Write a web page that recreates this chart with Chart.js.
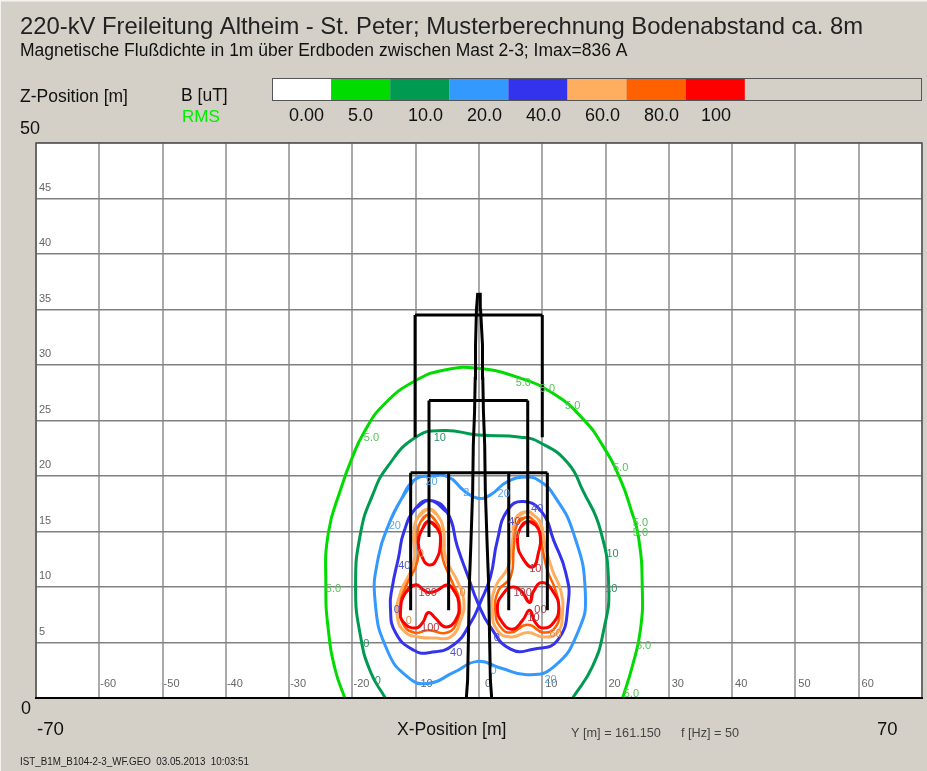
<!DOCTYPE html>
<html>
<head>
<meta charset="utf-8">
<title>Bodenabstand</title>
<script src="https://cdn.jsdelivr.net/npm/chart.js@4"></script>
<style>
  html, body { margin: 0; padding: 0; background: #d4d0c8; }
  canvas { display: block; }
</style>
</head>
<body>
<canvas id="fieldChart" width="927" height="771"></canvas>
<script>
// colour scale
var legendValues = ["0.00", "5.0", "10.0", "20.0", "40.0", "60.0", "80.0", "100"];
var legendColors = ["#ffffff", "#00dc00", "#009b50", "#3399ff", "#3333ee", "#ffae60", "#ff6000", "#ff0000"];

// axis ticks [m]
var xTicks = [-60, -50, -40, -30, -20, -10, 0, 10, 20, 30, 40, 50, 60];
var zTicks = [5, 10, 15, 20, 25, 30, 35, 40, 45];

// iso lines, [x, z] in metres
var line5 = [[-21.2,0],[-22.7,2.5],[-23.8,6.1],[-24.2,10],[-23.8,14.9],[-21.8,18.9],[-20,21.7],[-18.2,23.9],[-15.1,26.4],[-10,28.6],[-5,29.6],[-0.2,29.7],[6.1,28.9],[11.8,27.4],[16.5,25.1],[19.7,22.6],[22.4,19.6],[24,17],[25.2,14.5],[25.8,10],[25.5,6.1],[24.2,2.8],[22.7,0]];
var line10 = [[-14.8,0],[-17.1,2.3],[-18.7,5.5],[-19.5,10],[-18.7,14.9],[-16.8,18.3],[-14.5,20.8],[-10,23.5],[-5.6,24.1],[-0.2,23.7],[6.6,23.5],[9.7,23],[14,21.2],[16.4,18.7],[19.2,15.1],[20.5,10],[19.7,6.1],[17.9,2.8],[14.8,0]];
var line20 = [[-12.4,17.8],[-10.3,19.6],[-7.7,20],[-4.8,19.9],[-2.4,18.7],[-0.2,18],[1.8,18.3],[4.5,19.5],[7.7,19.9],[9.7,19.5],[11.8,18.3],[14.9,14.9],[16.8,9.5],[15.6,5.9],[11.8,2.8],[7.7,2.1],[3.4,2.7],[-0.2,3.3],[-4,2.3],[-8.1,1.3],[-11.3,1.9],[-14.5,4.3],[-16.4,8.6],[-15.9,12.7],[-14,16],[-12.4,17.8]];
var line40 = [[-7.7,17.8],[-5,16.7],[-3.4,13.6],[-1.7,10.9],[-0.2,8.6],[1.8,6.4],[5,4.4],[8.6,4.4],[12.4,5.2],[14.1,8.6],[13.7,11.3],[11.8,14.2],[10,16.7],[7,17.7],[4.5,16.9],[2.9,14.2],[1.8,10.9],[0.2,8.6],[-1.3,6.8],[-4,4.8],[-7.7,4.1],[-10.3,4.3],[-13.2,5.9],[-14,8.2],[-13.7,10],[-12.7,12.7],[-11.9,14.9],[-10,17.1],[-7.7,17.8]];
var line60a = [[-8,17],[-9.6,16.3],[-10.3,14.9],[-10.3,12.2],[-12.4,9.5],[-12.9,7.3],[-11.6,5.9],[-9.6,5.5],[-6.9,5.4],[-4.5,5.5],[-2.9,7],[-2.4,8.8],[-3.4,10.5],[-5.3,12.7],[-5.6,15.1],[-6.6,16.5],[-8,17]];
var line60b = [[7.7,16.8],[5.8,16.2],[5.3,14.2],[4.6,11.8],[2.6,10],[2.1,7.9],[2.9,6.1],[5,5.5],[7.7,5.9],[10.2,5.5],[12.4,5.9],[13.2,7.7],[12.9,9.7],[11.6,11.5],[10.5,13.6],[9.7,15.8],[8.6,16.5],[7.7,16.8]];
var line80a = [[-8,16.5],[-9.2,15.9],[-9.7,14.9],[-9.7,12.4],[-11.6,10],[-12.4,8.6],[-12.1,6.8],[-10.3,5.9],[-8,6.1],[-5,5.9],[-3.4,7],[-3.1,8.8],[-4.2,10.4],[-5.8,12.7],[-6.1,15],[-6.9,16],[-8,16.5]];
var line80b = [[7.7,16.3],[6.1,15.8],[5.5,13.6],[5,10.9],[3.1,9.7],[2.6,7.7],[3.4,6.4],[5,5.9],[7.7,6.6],[10.2,5.9],[12.1,6.4],[12.7,7.9],[12.1,9.7],[10.8,11.5],[10,13.6],[9.4,15.4],[8.6,16],[7.7,16.3]];
var line100a = [[-8,15.9],[-8.9,15.3],[-9.6,14],[-8.9,12.6],[-8,12],[-6.9,12.3],[-6.1,14],[-6.6,15.3],[-8,15.9]];
var line100b = [[-10,10.2],[-11.6,9.5],[-12.4,7.9],[-11.9,6.8],[-10,6.3],[-8.9,6.8],[-8,7.7],[-6.9,7.2],[-5.3,6.4],[-3.7,7],[-3.2,8.6],[-4,9.7],[-5,10.2],[-6.6,9.7],[-8,9.5],[-8.9,9.8],[-10,10.2]];
var line100c = [[7.7,15.9],[6.6,15.4],[6.1,14],[6.9,12.6],[8.5,11.8],[9.4,13.1],[9.7,14.5],[8.9,15.6],[7.7,15.9]];
var line100d = [[8,8.6],[6.9,9.5],[5.3,10],[3.7,9.3],[2.9,8.1],[3.7,6.8],[5.3,6.2],[6.9,7],[8,7.9],[8.9,6.8],[10.2,6.3],[11.8,6.8],[12.6,8.1],[11.8,9.5],[10,10.4],[8.5,9.5],[8,8.6]];

// mast
var mastLeft = [[-2,0],[-1.8,1.6],[-1.5,10.6],[-1.3,13.6],[-1,18.7],[-0.9,22.8],[-0.7,25.8],[-0.6,28.8],[-0.55,31.8],[-0.4,35],[-0.2,36.5]];
var mastRight = [[2,0],[1.8,1.6],[1.5,10.6],[1.3,13.6],[1,18.7],[0.9,22.8],[0.7,25.8],[0.6,28.8],[0.55,31.8],[0.25,35],[0.2,36.5]];
var mastBars = [
  [[-10.1,34.5],[10,34.5]], [[-10.1,34.5],[-10.1,23.5]], [[10,34.5],[10,23.5]],
  [[-7.9,26.8],[7.7,26.8]], [[-7.9,26.8],[-7.9,14.5]], [[7.7,26.8],[7.7,14.5]],
  [[-10.8,20.3],[10.8,20.3]], [[-10.8,20.3],[-10.8,7.9]], [[-4.8,20.3],[-4.8,7.9]], [[4.7,20.3],[4.7,7.9]], [[10.8,20.3],[10.8,7.9]]
];

// labels on the iso lines: text, x, z
var labels5 = [["5.0",-17,23.4],["5.0",7,28.4],["5.0",10.8,27.8],["5.0",14.8,26.3],["5.0",22.4,20.7],["5.0",25.5,15.8],["5.0",25.5,14.9],["5.0",-23,9.8],["5.0",26,4.7],["5.0",24.1,0.4]];
var labels10 = [["0",-17.8,4.9],["0",-16,1.5],["10",21.1,13],["10",20.9,9.8],["10",-6.2,23.4]];
var labels20 = [["20",-13.3,15.5],["20",-7.5,19.5],["2",-2,18.5],["20",3.9,18.4],["0",2.3,2.4],["20",11.3,1.6]];
var labels40 = [["40",-11.8,11.9],["0",-13,7.9],["40",-3.6,4.1],["0",2.8,5.4],["40",9.2,17],["40",5.6,15.9]];
var labels60 = [["0",-2.6,9.5],["0",-11.1,6.9],["60",12.1,5.8],["0",5.9,14.7],["0",-9.2,13]];
var labels100 = [["100",-8.1,9.5],["100",-7.7,6.3],["100",6.9,9.5],["00",9.7,7.9],["10",8.6,7.2],["10",8.9,11.6]];

function pts(list) {
  return list.map(function (p) { return { x: p[0], y: p[1] }; });
}
function iso(list, color, width) {
  return { data: pts(list), borderColor: color, borderWidth: width || 3, showLine: true, tension: 0.5, pointRadius: 0 };
}
// closed line: run over the seam so the curve stays smooth there
function loop(list, color, width) {
  return iso([list[list.length - 2]].concat(list, [list[1]]), color, width);
}
function bar(list, width) {
  return { data: pts(list), borderColor: "#000", borderWidth: width, showLine: true, tension: 0, pointRadius: 0 };
}

var datasets = [];
// first dataset ends up on top
mastBars.forEach(function (b) { datasets.push(bar(b, 3)); });
datasets.push(bar(mastLeft, 3), bar(mastRight, 3));
[line100a, line100b, line100c, line100d].forEach(function (l) { datasets.push(loop(l, legendColors[7])); });
[line80a, line80b].forEach(function (l) { datasets.push(loop(l, legendColors[6], 2.5)); });
[line60a, line60b].forEach(function (l) { datasets.push(loop(l, legendColors[5])); });
datasets.push(loop(line40, legendColors[4]), loop(line20, legendColors[3]), iso(line10, legendColors[2]), iso(line5, legendColors[1]));

// free text on the grey frame: text, x, baseline y, font, colour, max width
var F = "'Liberation Sans', Arial, sans-serif";
var frameTexts = [
  ["220-kV Freileitung Altheim - St. Peter; Musterberechnung Bodenabstand ca. 8m", 20, 34, "24px " + F, "#222", 843],
  ["Magnetische Flußdichte in 1m über Erdboden zwischen Mast 2-3; Imax=836 A", 20, 56, "17.5px " + F, "#111", 610],
  ["Z-Position [m]", 20, 102, "17.5px " + F, "#111", 108],
  ["B [uT]", 181, 101, "17.5px " + F, "#111", 47],
  ["RMS", 182, 122, "17px " + F, "#00ee00", 38],
  ["50", 20, 134, "18px " + F, "#111", 22],
  ["0", 21, 714, "18px " + F, "#111", 12],
  ["-70", 37, 735, "19px " + F, "#111", 27],
  ["X-Position [m]", 397, 735, "17.6px " + F, "#111", 110],
  ["Y [m] = 161.150", 571, 737, "12.7px " + F, "#444", 90],
  ["f [Hz] = 50", 681, 737, "12.7px " + F, "#444", 58],
  ["70", 877, 735, "18.5px " + F, "#111", 22],
  ["IST_B1M_B104-2-3_WF.GEO  03.05.2013  10:03:51", 20, 765, "10px " + F, "#222", 229]
];
var legendTextX = [289, 348, 408, 467, 526, 585, 644, 701];

var framePlugin = {
  id: "frame",
  beforeDraw: function (chart) {
    var c = chart.ctx, a = chart.chartArea;
    c.save();
    c.fillStyle = "#d4d0c8";
    c.fillRect(0, 0, chart.width, chart.height);
    // thin light edge of the window
    c.fillStyle = "#f4f3f0";
    c.fillRect(0, 0, chart.width, 1.5);
    c.fillRect(0, 0, 1, chart.height);
    c.fillStyle = "#fff";
    c.fillRect(a.left, a.top, a.right - a.left, a.bottom - a.top);
    c.restore();
  },
  afterDatasetsDraw: function (chart) {
    var c = chart.ctx, a = chart.chartArea, sx = chart.scales.x, sz = chart.scales.y;
    c.save();
    // iso line labels
    c.textAlign = "center";
    c.textBaseline = "middle";
    c.font = "11px " + F;
    [[labels5, "#55c455"], [labels10, "#2f8f66"], [labels20, "#5fa8e8"], [labels40, "#5555cc"], [labels60, "#e08a50"], [labels100, "#b03a4a"]].forEach(function (g) {
      c.fillStyle = g[1];
      g[0].forEach(function (l) {
        c.fillText(l[0], sx.getPixelForValue(l[1]), sz.getPixelForValue(l[2]));
      });
    });
    // plot frame
    c.strokeStyle = "#555";
    c.lineWidth = 1.5;
    c.strokeRect(a.left, a.top, a.right - a.left, a.bottom - a.top);
    c.strokeStyle = "#000";
    c.lineWidth = 2;
    c.beginPath();
    c.moveTo(a.left - 1, a.bottom);
    c.lineTo(a.right + 1, a.bottom);
    c.stroke();
    // colour strip
    var w = 59.1;
    c.fillStyle = "#d4d0c8";
    c.fillRect(272, 78, 650, 23);
    legendColors.forEach(function (col, i) {
      c.fillStyle = col;
      c.fillRect(272 + i * w, 78, w, 23);
    });
    c.strokeStyle = "#555";
    c.lineWidth = 1;
    c.strokeRect(272.5, 78.5, 649, 22);
    // frame texts
    c.textAlign = "left";
    c.textBaseline = "alphabetic";
    frameTexts.forEach(function (t) {
      c.font = t[3];
      c.fillStyle = t[4];
      c.fillText(t[0], t[1], t[2], t[5]);
    });
    c.font = "18px " + F;
    c.fillStyle = "#111";
    legendValues.forEach(function (v, i) {
      c.fillText(v, legendTextX[i], 121, 36);
    });
    c.restore();
  }
};

new Chart(document.getElementById("fieldChart"), {
  type: "scatter",
  data: { datasets: datasets },
  plugins: [framePlugin],
  options: {
    responsive: false,
    animation: false,
    layout: { padding: { left: 36, right: 5, top: 143, bottom: 73 } },
    plugins: { legend: { display: false }, tooltip: { enabled: false }, title: { display: false } },
    scales: {
      x: {
        type: "linear",
        min: -70,
        max: 70,
        afterFit: function (s) {
          s.height = 0;
          s.paddingLeft = 0;
          s.paddingRight = 0;
        },
        afterBuildTicks: function (s) { s.ticks = [-70].concat(xTicks, [70]).map(function (v) { return { value: v }; }); },
        grid: { color: "#aaaaaa", lineWidth: 2, drawTicks: false },
        border: { display: false },
        ticks: {
          autoSkip: false,
          maxRotation: 0,
          mirror: true,
          padding: 7,
          labelOffset: 9,
          color: "#666",
          font: { family: "Liberation Sans", size: 11 },
          callback: function (v) { return xTicks.indexOf(v) >= 0 ? String(v) : ""; }
        }
      },
      y: {
        type: "linear",
        min: 0,
        max: 50,
        afterFit: function (s) { s.width = 0; },
        afterBuildTicks: function (s) { s.ticks = [0].concat(zTicks, [50]).map(function (v) { return { value: v }; }); },
        grid: { color: "#808080", lineWidth: 1.5, drawTicks: false },
        border: { display: false },
        ticks: {
          autoSkip: false,
          mirror: true,
          padding: 3,
          labelOffset: -11,
          color: "#666",
          font: { family: "Liberation Sans", size: 11 },
          callback: function (v) { return zTicks.indexOf(v) >= 0 ? String(v) : ""; }
        }
      }
    }
  }
});
</script>
</body>
</html>
